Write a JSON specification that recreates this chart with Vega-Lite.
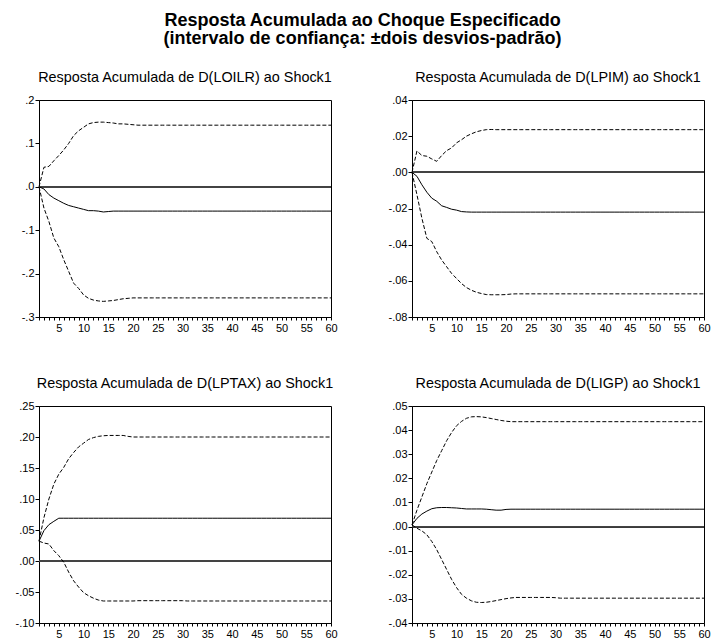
{
"$schema": "https://vega.github.io/schema/vega-lite/v6.json",
"background": "white",
"padding": {"left": 14, "top": 12, "right": 5, "bottom": 5},
"title": {"text": ["Resposta Acumulada ao Choque Especificado", "(intervalo de confiança: ±dois desvios-padrão)"], "font": "Liberation Sans", "fontSize": 18, "fontWeight": "bold", "color": "black", "anchor": "middle", "lineHeight": 18, "offset": 21},
"datasets": {
"LOILR": [
{"h":1,"r":0,"lo":0,"hi":0},{"h":2,"r":-0.005,"lo":-0.049,"hi":0.045},{"h":3,"r":-0.018,"lo":-0.08,"hi":0.047},{"h":4,"r":-0.026,"lo":-0.118,"hi":0.06},{"h":5,"r":-0.032,"lo":-0.138,"hi":0.072},{"h":6,"r":-0.038,"lo":-0.168,"hi":0.085},{"h":7,"r":-0.043,"lo":-0.195,"hi":0.1},{"h":8,"r":-0.046,"lo":-0.222,"hi":0.118},{"h":9,"r":-0.049,"lo":-0.234,"hi":0.129},{"h":10,"r":-0.052,"lo":-0.249,"hi":0.137},
{"h":11,"r":-0.055,"lo":-0.257,"hi":0.145},{"h":12,"r":-0.055,"lo":-0.261,"hi":0.148},{"h":13,"r":-0.056,"lo":-0.263,"hi":0.149},{"h":14,"r":-0.058,"lo":-0.264,"hi":0.149},{"h":15,"r":-0.057,"lo":-0.263,"hi":0.148},{"h":16,"r":-0.056,"lo":-0.262,"hi":0.147},{"h":17,"r":-0.056,"lo":-0.26,"hi":0.145},{"h":18,"r":-0.056,"lo":-0.258,"hi":0.145},{"h":19,"r":-0.056,"lo":-0.257,"hi":0.144},{"h":20,"r":-0.056,"lo":-0.256,"hi":0.143},
{"h":21,"r":-0.056,"lo":-0.256,"hi":0.142},{"h":22,"r":-0.056,"lo":-0.256,"hi":0.142},{"h":23,"r":-0.056,"lo":-0.256,"hi":0.142},{"h":24,"r":-0.056,"lo":-0.256,"hi":0.142},{"h":25,"r":-0.056,"lo":-0.256,"hi":0.142},{"h":26,"r":-0.056,"lo":-0.256,"hi":0.142},{"h":27,"r":-0.056,"lo":-0.256,"hi":0.142},{"h":28,"r":-0.056,"lo":-0.256,"hi":0.142},{"h":29,"r":-0.056,"lo":-0.256,"hi":0.142},{"h":30,"r":-0.056,"lo":-0.256,"hi":0.142},
{"h":31,"r":-0.056,"lo":-0.256,"hi":0.142},{"h":32,"r":-0.056,"lo":-0.256,"hi":0.142},{"h":33,"r":-0.056,"lo":-0.256,"hi":0.142},{"h":34,"r":-0.056,"lo":-0.256,"hi":0.142},{"h":35,"r":-0.056,"lo":-0.256,"hi":0.142},{"h":36,"r":-0.056,"lo":-0.256,"hi":0.142},{"h":37,"r":-0.056,"lo":-0.256,"hi":0.142},{"h":38,"r":-0.056,"lo":-0.256,"hi":0.142},{"h":39,"r":-0.056,"lo":-0.256,"hi":0.142},{"h":40,"r":-0.056,"lo":-0.256,"hi":0.142},
{"h":41,"r":-0.056,"lo":-0.256,"hi":0.142},{"h":42,"r":-0.056,"lo":-0.256,"hi":0.142},{"h":43,"r":-0.056,"lo":-0.256,"hi":0.142},{"h":44,"r":-0.056,"lo":-0.256,"hi":0.142},{"h":45,"r":-0.056,"lo":-0.256,"hi":0.142},{"h":46,"r":-0.056,"lo":-0.256,"hi":0.142},{"h":47,"r":-0.056,"lo":-0.256,"hi":0.142},{"h":48,"r":-0.056,"lo":-0.256,"hi":0.142},{"h":49,"r":-0.056,"lo":-0.256,"hi":0.142},{"h":50,"r":-0.056,"lo":-0.256,"hi":0.142},
{"h":51,"r":-0.056,"lo":-0.256,"hi":0.142},{"h":52,"r":-0.056,"lo":-0.256,"hi":0.142},{"h":53,"r":-0.056,"lo":-0.256,"hi":0.142},{"h":54,"r":-0.056,"lo":-0.256,"hi":0.142},{"h":55,"r":-0.056,"lo":-0.256,"hi":0.142},{"h":56,"r":-0.056,"lo":-0.256,"hi":0.142},{"h":57,"r":-0.056,"lo":-0.256,"hi":0.142},{"h":58,"r":-0.056,"lo":-0.256,"hi":0.142},{"h":59,"r":-0.056,"lo":-0.256,"hi":0.142},{"h":60,"r":-0.056,"lo":-0.256,"hi":0.142}
],
"LPIM": [
{"h":1,"r":0,"lo":0,"hi":0},{"h":2,"r":-0.0022,"lo":-0.0124,"hi":0.0118},{"h":3,"r":-0.0069,"lo":-0.0254,"hi":0.0093},{"h":4,"r":-0.011,"lo":-0.0365,"hi":0.0089},{"h":5,"r":-0.0143,"lo":-0.0383,"hi":0.0074},{"h":6,"r":-0.016,"lo":-0.0439,"hi":0.0061},{"h":7,"r":-0.0185,"lo":-0.0485,"hi":0.0093},{"h":8,"r":-0.0194,"lo":-0.0522,"hi":0.012},{"h":9,"r":-0.0204,"lo":-0.0559,"hi":0.0135},{"h":10,"r":-0.0209,"lo":-0.0587,"hi":0.0163},
{"h":11,"r":-0.0217,"lo":-0.0615,"hi":0.018},{"h":12,"r":-0.0219,"lo":-0.0637,"hi":0.02},{"h":13,"r":-0.022,"lo":-0.0652,"hi":0.0213},{"h":14,"r":-0.022,"lo":-0.0663,"hi":0.0224},{"h":15,"r":-0.022,"lo":-0.067,"hi":0.0231},{"h":16,"r":-0.022,"lo":-0.0676,"hi":0.0236},{"h":17,"r":-0.022,"lo":-0.0677,"hi":0.0237},{"h":18,"r":-0.022,"lo":-0.0677,"hi":0.0236},{"h":19,"r":-0.022,"lo":-0.0677,"hi":0.0236},{"h":20,"r":-0.022,"lo":-0.0676,"hi":0.0236},
{"h":21,"r":-0.022,"lo":-0.0673,"hi":0.0236},{"h":22,"r":-0.022,"lo":-0.0672,"hi":0.0236},{"h":23,"r":-0.022,"lo":-0.0672,"hi":0.0236},{"h":24,"r":-0.022,"lo":-0.0672,"hi":0.0236},{"h":25,"r":-0.022,"lo":-0.0672,"hi":0.0236},{"h":26,"r":-0.022,"lo":-0.0672,"hi":0.0236},{"h":27,"r":-0.022,"lo":-0.0672,"hi":0.0236},{"h":28,"r":-0.022,"lo":-0.0672,"hi":0.0236},{"h":29,"r":-0.022,"lo":-0.0672,"hi":0.0236},{"h":30,"r":-0.022,"lo":-0.0672,"hi":0.0236},
{"h":31,"r":-0.022,"lo":-0.0672,"hi":0.0236},{"h":32,"r":-0.022,"lo":-0.0672,"hi":0.0236},{"h":33,"r":-0.022,"lo":-0.0672,"hi":0.0236},{"h":34,"r":-0.022,"lo":-0.0672,"hi":0.0236},{"h":35,"r":-0.022,"lo":-0.0672,"hi":0.0236},{"h":36,"r":-0.022,"lo":-0.0672,"hi":0.0236},{"h":37,"r":-0.022,"lo":-0.0672,"hi":0.0236},{"h":38,"r":-0.022,"lo":-0.0672,"hi":0.0236},{"h":39,"r":-0.022,"lo":-0.0672,"hi":0.0236},{"h":40,"r":-0.022,"lo":-0.0672,"hi":0.0236},
{"h":41,"r":-0.022,"lo":-0.0672,"hi":0.0236},{"h":42,"r":-0.022,"lo":-0.0672,"hi":0.0236},{"h":43,"r":-0.022,"lo":-0.0672,"hi":0.0236},{"h":44,"r":-0.022,"lo":-0.0672,"hi":0.0236},{"h":45,"r":-0.022,"lo":-0.0672,"hi":0.0236},{"h":46,"r":-0.022,"lo":-0.0672,"hi":0.0236},{"h":47,"r":-0.022,"lo":-0.0672,"hi":0.0236},{"h":48,"r":-0.022,"lo":-0.0672,"hi":0.0236},{"h":49,"r":-0.022,"lo":-0.0672,"hi":0.0236},{"h":50,"r":-0.022,"lo":-0.0672,"hi":0.0236},
{"h":51,"r":-0.022,"lo":-0.0672,"hi":0.0236},{"h":52,"r":-0.022,"lo":-0.0672,"hi":0.0236},{"h":53,"r":-0.022,"lo":-0.0672,"hi":0.0236},{"h":54,"r":-0.022,"lo":-0.0672,"hi":0.0236},{"h":55,"r":-0.022,"lo":-0.0672,"hi":0.0236},{"h":56,"r":-0.022,"lo":-0.0672,"hi":0.0236},{"h":57,"r":-0.022,"lo":-0.0672,"hi":0.0236},{"h":58,"r":-0.022,"lo":-0.0672,"hi":0.0236},{"h":59,"r":-0.022,"lo":-0.0672,"hi":0.0236},{"h":60,"r":-0.022,"lo":-0.0672,"hi":0.0236}
],
"LPTAX": [
{"h":1,"r":0.032,"lo":0.032,"hi":0.032},{"h":2,"r":0.049,"lo":0.029,"hi":0.07},{"h":3,"r":0.0586,"lo":0.0274,"hi":0.1},{"h":4,"r":0.064,"lo":0.0167,"hi":0.124},{"h":5,"r":0.069,"lo":0.0086,"hi":0.14},{"h":6,"r":0.069,"lo":-0.002,"hi":0.151},{"h":7,"r":0.069,"lo":-0.018,"hi":0.165},{"h":8,"r":0.069,"lo":-0.032,"hi":0.175},{"h":9,"r":0.069,"lo":-0.042,"hi":0.184},{"h":10,"r":0.069,"lo":-0.051,"hi":0.19},
{"h":11,"r":0.069,"lo":-0.056,"hi":0.196},{"h":12,"r":0.069,"lo":-0.06,"hi":0.199},{"h":13,"r":0.069,"lo":-0.063,"hi":0.201},{"h":14,"r":0.069,"lo":-0.0645,"hi":0.202},{"h":15,"r":0.069,"lo":-0.0645,"hi":0.2025},{"h":16,"r":0.069,"lo":-0.0645,"hi":0.2025},{"h":17,"r":0.069,"lo":-0.0645,"hi":0.2025},{"h":18,"r":0.069,"lo":-0.0645,"hi":0.2025},{"h":19,"r":0.069,"lo":-0.0645,"hi":0.201},{"h":20,"r":0.069,"lo":-0.0645,"hi":0.2},
{"h":21,"r":0.069,"lo":-0.064,"hi":0.2},{"h":22,"r":0.069,"lo":-0.064,"hi":0.2},{"h":23,"r":0.069,"lo":-0.064,"hi":0.2},{"h":24,"r":0.069,"lo":-0.064,"hi":0.2},{"h":25,"r":0.069,"lo":-0.064,"hi":0.2},{"h":26,"r":0.069,"lo":-0.064,"hi":0.2},{"h":27,"r":0.069,"lo":-0.064,"hi":0.2},{"h":28,"r":0.069,"lo":-0.064,"hi":0.2},{"h":29,"r":0.069,"lo":-0.064,"hi":0.2},{"h":30,"r":0.069,"lo":-0.064,"hi":0.2},
{"h":31,"r":0.069,"lo":-0.0645,"hi":0.2},{"h":32,"r":0.069,"lo":-0.0645,"hi":0.2},{"h":33,"r":0.069,"lo":-0.0645,"hi":0.2},{"h":34,"r":0.069,"lo":-0.0645,"hi":0.2},{"h":35,"r":0.069,"lo":-0.0645,"hi":0.2},{"h":36,"r":0.069,"lo":-0.0645,"hi":0.2},{"h":37,"r":0.069,"lo":-0.0645,"hi":0.2},{"h":38,"r":0.069,"lo":-0.0645,"hi":0.2},{"h":39,"r":0.069,"lo":-0.0645,"hi":0.2},{"h":40,"r":0.069,"lo":-0.0645,"hi":0.2},
{"h":41,"r":0.069,"lo":-0.0645,"hi":0.2},{"h":42,"r":0.069,"lo":-0.0645,"hi":0.2},{"h":43,"r":0.069,"lo":-0.0645,"hi":0.2},{"h":44,"r":0.069,"lo":-0.0645,"hi":0.2},{"h":45,"r":0.069,"lo":-0.0645,"hi":0.2},{"h":46,"r":0.069,"lo":-0.0645,"hi":0.2},{"h":47,"r":0.069,"lo":-0.0645,"hi":0.2},{"h":48,"r":0.069,"lo":-0.0645,"hi":0.2},{"h":49,"r":0.069,"lo":-0.0645,"hi":0.2},{"h":50,"r":0.069,"lo":-0.0645,"hi":0.2},
{"h":51,"r":0.069,"lo":-0.0645,"hi":0.2},{"h":52,"r":0.069,"lo":-0.0645,"hi":0.2},{"h":53,"r":0.069,"lo":-0.0645,"hi":0.2},{"h":54,"r":0.069,"lo":-0.0645,"hi":0.2},{"h":55,"r":0.069,"lo":-0.0645,"hi":0.2},{"h":56,"r":0.069,"lo":-0.0645,"hi":0.2},{"h":57,"r":0.069,"lo":-0.0645,"hi":0.2},{"h":58,"r":0.069,"lo":-0.0645,"hi":0.2},{"h":59,"r":0.069,"lo":-0.0645,"hi":0.2},{"h":60,"r":0.069,"lo":-0.0645,"hi":0.2}
],
"LIGP": [
{"h":1,"r":0.0007,"lo":0.0007,"hi":0.0007},{"h":2,"r":0.0034,"lo":-0.0007,"hi":0.0068},{"h":3,"r":0.0052,"lo":-0.0018,"hi":0.0123},{"h":4,"r":0.0064,"lo":-0.0034,"hi":0.0178},{"h":5,"r":0.0074,"lo":-0.0062,"hi":0.0226},{"h":6,"r":0.0078,"lo":-0.0096,"hi":0.0274},{"h":7,"r":0.0079,"lo":-0.0137,"hi":0.0315},{"h":8,"r":0.0079,"lo":-0.0178,"hi":0.0356},{"h":9,"r":0.0078,"lo":-0.0219,"hi":0.039},{"h":10,"r":0.0077,"lo":-0.0253,"hi":0.0418},
{"h":11,"r":0.0075,"lo":-0.0281,"hi":0.0436},{"h":12,"r":0.0073,"lo":-0.0297,"hi":0.0449},{"h":13,"r":0.0073,"lo":-0.0308,"hi":0.0455},{"h":14,"r":0.0073,"lo":-0.0314,"hi":0.0456},{"h":15,"r":0.0073,"lo":-0.0315,"hi":0.0455},{"h":16,"r":0.0072,"lo":-0.0314,"hi":0.0452},{"h":17,"r":0.007,"lo":-0.0311,"hi":0.0448},{"h":18,"r":0.0068,"lo":-0.0307,"hi":0.0444},{"h":19,"r":0.0068,"lo":-0.0303,"hi":0.044},{"h":20,"r":0.0071,"lo":-0.0299,"hi":0.0437},
{"h":21,"r":0.0072,"lo":-0.0296,"hi":0.0435},{"h":22,"r":0.0072,"lo":-0.0294,"hi":0.0435},{"h":23,"r":0.0072,"lo":-0.0294,"hi":0.0435},{"h":24,"r":0.0072,"lo":-0.0294,"hi":0.0435},{"h":25,"r":0.0072,"lo":-0.0294,"hi":0.0435},{"h":26,"r":0.0072,"lo":-0.0294,"hi":0.0435},{"h":27,"r":0.0072,"lo":-0.0294,"hi":0.0435},{"h":28,"r":0.0072,"lo":-0.0294,"hi":0.0435},{"h":29,"r":0.0072,"lo":-0.0294,"hi":0.0435},{"h":30,"r":0.0072,"lo":-0.0295,"hi":0.0435},
{"h":31,"r":0.0072,"lo":-0.0297,"hi":0.0435},{"h":32,"r":0.0072,"lo":-0.0297,"hi":0.0435},{"h":33,"r":0.0072,"lo":-0.0297,"hi":0.0435},{"h":34,"r":0.0072,"lo":-0.0297,"hi":0.0435},{"h":35,"r":0.0072,"lo":-0.0297,"hi":0.0435},{"h":36,"r":0.0072,"lo":-0.0297,"hi":0.0435},{"h":37,"r":0.0072,"lo":-0.0297,"hi":0.0435},{"h":38,"r":0.0072,"lo":-0.0297,"hi":0.0435},{"h":39,"r":0.0072,"lo":-0.0297,"hi":0.0435},{"h":40,"r":0.0072,"lo":-0.0297,"hi":0.0435},
{"h":41,"r":0.0072,"lo":-0.0297,"hi":0.0435},{"h":42,"r":0.0072,"lo":-0.0297,"hi":0.0435},{"h":43,"r":0.0072,"lo":-0.0297,"hi":0.0435},{"h":44,"r":0.0072,"lo":-0.0297,"hi":0.0435},{"h":45,"r":0.0072,"lo":-0.0297,"hi":0.0435},{"h":46,"r":0.0072,"lo":-0.0297,"hi":0.0435},{"h":47,"r":0.0072,"lo":-0.0297,"hi":0.0435},{"h":48,"r":0.0072,"lo":-0.0297,"hi":0.0435},{"h":49,"r":0.0072,"lo":-0.0297,"hi":0.0435},{"h":50,"r":0.0072,"lo":-0.0297,"hi":0.0435},
{"h":51,"r":0.0072,"lo":-0.0297,"hi":0.0435},{"h":52,"r":0.0072,"lo":-0.0297,"hi":0.0435},{"h":53,"r":0.0072,"lo":-0.0297,"hi":0.0435},{"h":54,"r":0.0072,"lo":-0.0297,"hi":0.0435},{"h":55,"r":0.0072,"lo":-0.0297,"hi":0.0435},{"h":56,"r":0.0072,"lo":-0.0297,"hi":0.0435},{"h":57,"r":0.0072,"lo":-0.0297,"hi":0.0435},{"h":58,"r":0.0072,"lo":-0.0297,"hi":0.0435},{"h":59,"r":0.0072,"lo":-0.0297,"hi":0.0435},{"h":60,"r":0.0072,"lo":-0.0297,"hi":0.0435}
]
},
"columns": 2,
"bounds": "flush",
"spacing": {"row": 89, "column": 81},
"concat": [
{
"title": "Resposta Acumulada de D(LOILR) ao Shock1",
"width": 292, "height": 217,
"data": {"name": "LOILR"},
"layer": [
{"mark": {"type": "rule", "color": "#444", "strokeWidth": 0.8},
 "encoding": {"y": {"datum": 0, "type": "quantitative", "scale": {"domain": [-0.3, 0.2], "nice": false, "zero": false},
   "axis": {"title": null, "values": [-0.3, -0.2, -0.1, 0, 0.1, 0.2], "labelExpr": "(datum.value < -0.00001 ? '-' : '') + replace(format(abs(datum.value), '.1f'), '0.', '.')"}}}},
{"mark": {"type": "line", "strokeDash": [4, 2]},
 "encoding": {"x": {"field": "h", "type": "quantitative", "scale": {"domain": [1, 60], "nice": false, "zero": false},
   "axis": {"title": null, "values": [1,2,3,4,5,6,7,8,9,10,11,12,13,14,15,16,17,18,19,20,21,22,23,24,25,26,27,28,29,30,31,32,33,34,35,36,37,38,39,40,41,42,43,44,45,46,47,48,49,50,51,52,53,54,55,56,57,58,59,60], "labelExpr": "datum.value % 5 === 0 ? format(datum.value, 'd') : ''"}},
  "y": {"field": "hi", "type": "quantitative"}}},
{"mark": {"type": "line", "strokeDash": [4, 2]},
 "encoding": {"x": {"field": "h", "type": "quantitative"}, "y": {"field": "lo", "type": "quantitative"}}},
{"mark": {"type": "line"},
 "encoding": {"x": {"field": "h", "type": "quantitative"}, "y": {"field": "r", "type": "quantitative"}}}
]
},
{
"title": "Resposta Acumulada de D(LPIM) ao Shock1",
"width": 292, "height": 217,
"data": {"name": "LPIM"},
"layer": [
{"mark": {"type": "rule", "color": "#444", "strokeWidth": 0.8},
 "encoding": {"y": {"datum": 0, "type": "quantitative", "scale": {"domain": [-0.08, 0.04], "nice": false, "zero": false},
   "axis": {"title": null, "values": [-0.08, -0.06, -0.04, -0.02, 0, 0.02, 0.04], "labelExpr": "(datum.value < -0.00001 ? '-' : '') + replace(format(abs(datum.value), '.2f'), '0.', '.')"}}}},
{"mark": {"type": "line", "strokeDash": [4, 2]},
 "encoding": {"x": {"field": "h", "type": "quantitative", "scale": {"domain": [1, 60], "nice": false, "zero": false},
   "axis": {"title": null, "values": [1,2,3,4,5,6,7,8,9,10,11,12,13,14,15,16,17,18,19,20,21,22,23,24,25,26,27,28,29,30,31,32,33,34,35,36,37,38,39,40,41,42,43,44,45,46,47,48,49,50,51,52,53,54,55,56,57,58,59,60], "labelExpr": "datum.value % 5 === 0 ? format(datum.value, 'd') : ''"}},
  "y": {"field": "hi", "type": "quantitative"}}},
{"mark": {"type": "line", "strokeDash": [4, 2]},
 "encoding": {"x": {"field": "h", "type": "quantitative"}, "y": {"field": "lo", "type": "quantitative"}}},
{"mark": {"type": "line"},
 "encoding": {"x": {"field": "h", "type": "quantitative"}, "y": {"field": "r", "type": "quantitative"}}}
]
},
{
"title": "Resposta Acumulada de D(LPTAX) ao Shock1",
"width": 292, "height": 217,
"data": {"name": "LPTAX"},
"layer": [
{"mark": {"type": "rule", "color": "#444", "strokeWidth": 0.8},
 "encoding": {"y": {"datum": 0, "type": "quantitative", "scale": {"domain": [-0.1, 0.25], "nice": false, "zero": false},
   "axis": {"title": null, "values": [-0.1, -0.05, 0, 0.05, 0.1, 0.15, 0.2, 0.25], "labelExpr": "(datum.value < -0.00001 ? '-' : '') + replace(format(abs(datum.value), '.2f'), '0.', '.')"}}}},
{"mark": {"type": "line", "strokeDash": [4, 2]},
 "encoding": {"x": {"field": "h", "type": "quantitative", "scale": {"domain": [1, 60], "nice": false, "zero": false},
   "axis": {"title": null, "values": [1,2,3,4,5,6,7,8,9,10,11,12,13,14,15,16,17,18,19,20,21,22,23,24,25,26,27,28,29,30,31,32,33,34,35,36,37,38,39,40,41,42,43,44,45,46,47,48,49,50,51,52,53,54,55,56,57,58,59,60], "labelExpr": "datum.value % 5 === 0 ? format(datum.value, 'd') : ''"}},
  "y": {"field": "hi", "type": "quantitative"}}},
{"mark": {"type": "line", "strokeDash": [4, 2]},
 "encoding": {"x": {"field": "h", "type": "quantitative"}, "y": {"field": "lo", "type": "quantitative"}}},
{"mark": {"type": "line"},
 "encoding": {"x": {"field": "h", "type": "quantitative"}, "y": {"field": "r", "type": "quantitative"}}}
]
},
{
"title": "Resposta Acumulada de D(LIGP) ao Shock1",
"width": 292, "height": 217,
"data": {"name": "LIGP"},
"layer": [
{"mark": {"type": "rule", "color": "#444", "strokeWidth": 0.8},
 "encoding": {"y": {"datum": 0, "type": "quantitative", "scale": {"domain": [-0.04, 0.05], "nice": false, "zero": false},
   "axis": {"title": null, "values": [-0.04, -0.03, -0.02, -0.01, 0, 0.01, 0.02, 0.03, 0.04, 0.05], "labelExpr": "(datum.value < -0.00001 ? '-' : '') + replace(format(abs(datum.value), '.2f'), '0.', '.')"}}}},
{"mark": {"type": "line", "strokeDash": [4, 2]},
 "encoding": {"x": {"field": "h", "type": "quantitative", "scale": {"domain": [1, 60], "nice": false, "zero": false},
   "axis": {"title": null, "values": [1,2,3,4,5,6,7,8,9,10,11,12,13,14,15,16,17,18,19,20,21,22,23,24,25,26,27,28,29,30,31,32,33,34,35,36,37,38,39,40,41,42,43,44,45,46,47,48,49,50,51,52,53,54,55,56,57,58,59,60], "labelExpr": "datum.value % 5 === 0 ? format(datum.value, 'd') : ''"}},
  "y": {"field": "hi", "type": "quantitative"}}},
{"mark": {"type": "line", "strokeDash": [4, 2]},
 "encoding": {"x": {"field": "h", "type": "quantitative"}, "y": {"field": "lo", "type": "quantitative"}}},
{"mark": {"type": "line"},
 "encoding": {"x": {"field": "h", "type": "quantitative"}, "y": {"field": "r", "type": "quantitative"}}}
]
}
],
"config": {
"font": "Liberation Sans",
"view": {"stroke": "black", "strokeWidth": 1},
"title": {"font": "Liberation Sans", "fontSize": 14.4, "fontWeight": "normal", "color": "black", "offset": 9},
"axis": {"grid": false, "tickCount": 200, "domainColor": "black", "domainWidth": 1, "tickColor": "black", "tickWidth": 1, "labelColor": "black", "labelFont": "Liberation Sans", "labelFontSize": 11, "labelOverlap": false, "labelFlush": false, "labelBound": false},
"axisX": {"tickSize": 3, "labelPadding": 2},
"axisY": {"tickSize": 4, "labelPadding": 1},
"line": {"color": "black", "strokeWidth": 1}
}
}
